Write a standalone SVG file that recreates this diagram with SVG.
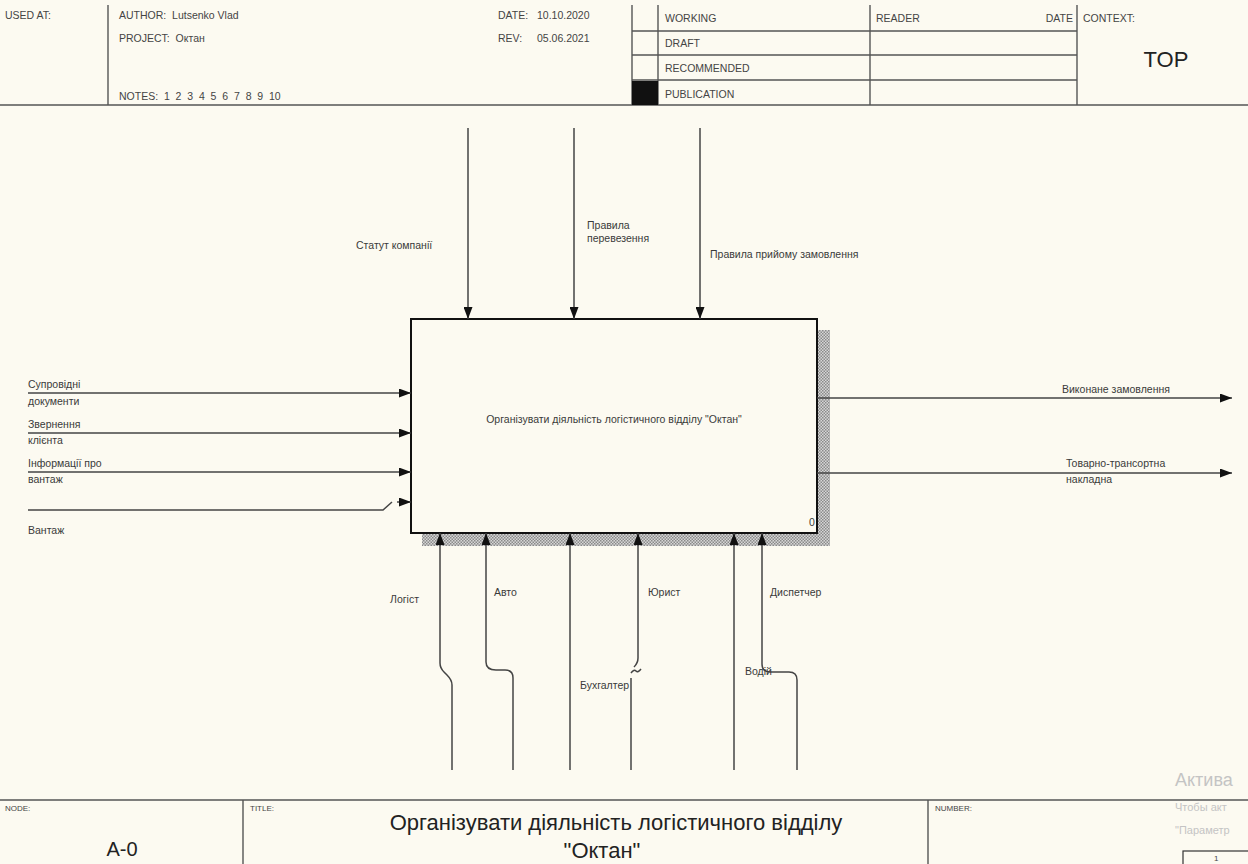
<svg xmlns="http://www.w3.org/2000/svg" width="1248" height="864" viewBox="0 0 1248 864">
<defs>
<style>
.t{font-family:"Liberation Sans",Arial,sans-serif;font-size:10.5px;fill:#3a3a3a}
.h{font-family:"Liberation Sans",Arial,sans-serif;font-size:10.5px;fill:#444}
.s{font-family:"Liberation Sans",Arial,sans-serif;font-size:8px;fill:#444}
.big{font-family:"Liberation Sans",Arial,sans-serif;font-size:22px;fill:#222}
.frame{stroke:#555;stroke-width:1.4;fill:none}
.c{stroke:#444;stroke-width:1.5;fill:none}
.wm{font-family:"Liberation Sans",Arial,sans-serif;fill:#c4c4c4}
</style>
<marker id="ah" viewBox="0 0 12 9" refX="12" refY="4.5" markerWidth="12" markerHeight="9" markerUnits="userSpaceOnUse" orient="auto">
<path d="M0,0 L12,4.5 L0,9 Z" fill="#111"/>
</marker>
<pattern id="hatch" width="3" height="3" patternUnits="userSpaceOnUse">
<rect width="3" height="3" fill="#d6d6d6"/>
<rect width="1.5" height="1.5" fill="#8a8a8a"/>
<rect x="1.5" y="1.5" width="1.5" height="1.5" fill="#8a8a8a"/>
</pattern>
</defs>
<rect width="1248" height="864" fill="#fcfaf1"/>

<g id="header">
<line class="frame" x1="0" y1="105" x2="1248" y2="105"/>
<line class="frame" x1="108" y1="5" x2="108" y2="105"/>
<line class="frame" x1="632" y1="5" x2="632" y2="105"/>
<line class="frame" x1="658" y1="5" x2="658" y2="105"/>
<line class="frame" x1="870" y1="5" x2="870" y2="105"/>
<line class="frame" x1="1077" y1="5" x2="1077" y2="105"/>
<line class="frame" x1="632" y1="31" x2="1077" y2="31"/>
<line class="frame" x1="632" y1="55" x2="1077" y2="55"/>
<line class="frame" x1="632" y1="80" x2="1077" y2="80"/>
<rect x="632" y="81" width="26" height="24" fill="#111"/>
<text class="h" x="5" y="19">USED AT:</text>
<text class="h" x="119" y="19" xml:space="preserve">AUTHOR:  Lutsenko Vlad</text>
<text class="h" x="119" y="42" xml:space="preserve">PROJECT:  Октан</text>
<text class="h" x="119" y="100" xml:space="preserve">NOTES:  1  2  3  4  5  6  7  8  9  10</text>
<text class="h" x="498" y="19">DATE:</text>
<text class="h" x="537" y="19">10.10.2020</text>
<text class="h" x="498" y="42">REV:</text>
<text class="h" x="537" y="42">05.06.2021</text>
<text class="h" x="665" y="22">WORKING</text>
<text class="h" x="665" y="47">DRAFT</text>
<text class="h" x="665" y="72">RECOMMENDED</text>
<text class="h" x="665" y="98">PUBLICATION</text>
<text class="h" x="876" y="22">READER</text>
<text class="h" x="1073" y="22" text-anchor="end">DATE</text>
<text class="h" x="1083" y="22">CONTEXT:</text>
<text class="big" x="1166" y="67" text-anchor="middle">TOP</text>
</g>

<g id="node-0">
<rect x="422" y="330" width="408" height="216" fill="url(#hatch)"/>
<rect x="411" y="319" width="406" height="214" fill="#fcfaf1" stroke="#111" stroke-width="2"/>
<text class="t" x="614" y="423" text-anchor="middle">Організувати діяльність логістичного відділу "Октан"</text>
<text class="t" x="809" y="526">0</text>
</g>

<g id="connectors">
<line class="c" x1="468" y1="128" x2="468" y2="319" marker-end="url(#ah)"/>
<line class="c" x1="574" y1="128" x2="574" y2="319" marker-end="url(#ah)"/>
<line class="c" x1="700" y1="128" x2="700" y2="319" marker-end="url(#ah)"/>
<line class="c" x1="28" y1="393" x2="411" y2="393" marker-end="url(#ah)"/>
<line class="c" x1="28" y1="433" x2="411" y2="433" marker-end="url(#ah)"/>
<line class="c" x1="28" y1="472" x2="411" y2="472" marker-end="url(#ah)"/>
<path class="c" d="M28,510 L383,510 L392,502"/>
<line class="c" x1="397" y1="502" x2="411" y2="502" marker-end="url(#ah)"/>
<line class="c" x1="817" y1="398" x2="1232" y2="398" marker-end="url(#ah)"/>
<line class="c" x1="817" y1="473" x2="1232" y2="473" marker-end="url(#ah)"/>
<path class="c" d="M452,770 V685 Q452,680 447,675 L444,672 Q440,668 440,663 V533" marker-end="url(#ah)"/>
<path class="c" d="M513,770 V678 Q513,670 505,670 H496 Q486,670 486,662 V533" marker-end="url(#ah)"/>
<line class="c" x1="570" y1="770" x2="570" y2="533" marker-end="url(#ah)"/>
<path class="c" d="M634,667 Q638,663 638,658 V533" marker-end="url(#ah)"/>
<path class="c" d="M631,673 Q634,669 636,671 Q638,673 641,669"/>
<line class="c" x1="631" y1="678" x2="631" y2="770"/>
<line class="c" x1="734" y1="770" x2="734" y2="533" marker-end="url(#ah)"/>
<path class="c" d="M797,770 V680 Q797,672 789,672 H770 Q762,672 762,664 V533" marker-end="url(#ah)"/>
</g>

<g id="labels">
<text class="t" x="356" y="249">Статут компанії</text>
<text class="t" x="587" y="229">Правила</text>
<text class="t" x="587" y="242">перевезення</text>
<text class="t" x="710" y="258">Правила прийому замовлення</text>
<text class="t" x="28" y="388">Супровідні</text>
<text class="t" x="28" y="405">документи</text>
<text class="t" x="28" y="428">Звернення</text>
<text class="t" x="28" y="444">клієнта</text>
<text class="t" x="28" y="467">Інформації про</text>
<text class="t" x="28" y="483">вантаж</text>
<text class="t" x="28" y="534">Вантаж</text>
<text class="t" x="1062" y="393">Виконане замовлення</text>
<text class="t" x="1066" y="467">Товарно-трансортна</text>
<text class="t" x="1066" y="483">накладна</text>
<text class="t" x="390" y="603">Логіст</text>
<text class="t" x="494" y="596">Авто</text>
<text class="t" x="648" y="596">Юрист</text>
<text class="t" x="770" y="596">Диспетчер</text>
<text class="t" x="580" y="689">Бухгалтер</text>
<text class="t" x="745" y="675">Водій</text>
</g>

<g id="footer">
<line class="frame" x1="0" y1="800" x2="1248" y2="800"/>
<line class="frame" x1="243" y1="800" x2="243" y2="864"/>
<line class="frame" x1="928" y1="800" x2="928" y2="864"/>
<text class="s" x="5" y="811">NODE:</text>
<text class="big" x="122" y="856" text-anchor="middle" style="font-size:20px">A-0</text>
<text class="s" x="250" y="811">TITLE:</text>
<text class="big" x="616" y="830" text-anchor="middle">Організувати діяльність логістичного відділу</text>
<text class="big" x="602" y="858" text-anchor="middle">"Октан"</text>
<text class="s" x="935" y="811">NUMBER:</text>
<rect x="1183" y="851" width="80" height="20" fill="none" stroke="#333" stroke-width="1.2"/>
<text class="s" x="1214" y="861">1</text>
</g>

<g id="watermark">
<text class="wm" x="1175" y="786" style="font-size:18px">Актива</text>
<text class="wm" x="1175" y="811" style="font-size:11px">Чтобы акт</text>
<text class="wm" x="1175" y="834" style="font-size:11px">"Параметр</text>
</g>
</svg>
